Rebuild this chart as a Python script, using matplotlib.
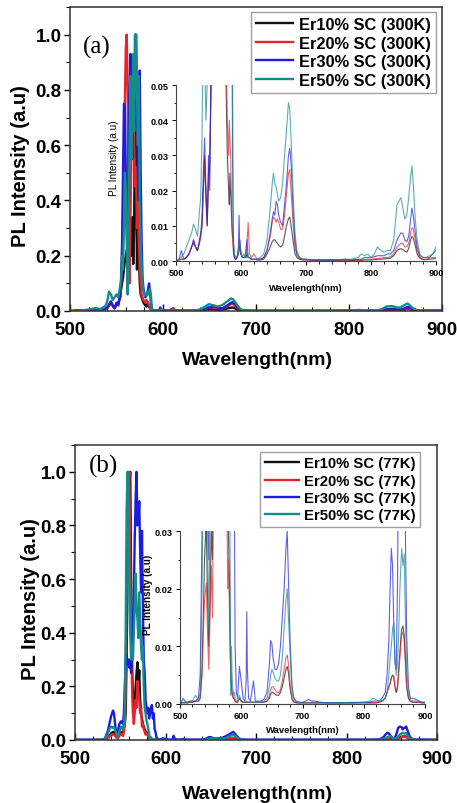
import numpy as np
import matplotlib
matplotlib.use("Agg")
import matplotlib.pyplot as plt
from matplotlib.ticker import MultipleLocator, FormatStrFormatter

plt.rcParams['font.family'] = ['Liberation Sans', 'DejaVu Sans']

# ---- panel (a): 300 K spectra -------------------------------------------
wl_a = [500, 505, 508, 512, 516, 520, 524, 527, 530, 533,
        536, 538, 540, 542, 544, 546, 548, 550, 552, 554,
        555, 556, 557, 558, 559, 560, 561, 562, 563, 564,
        565, 566, 567, 568, 569, 570, 571, 572, 573, 574,
        575, 576, 577, 578, 579, 580, 581, 582, 583, 584,
        585, 586, 587, 588, 589, 590, 592, 594, 596, 597,
        598, 600, 602, 604, 606, 608, 609, 611, 613, 616,
        620, 625, 630, 635, 640, 645, 648, 650, 652, 654,
        656, 658, 661, 664, 667, 670, 673, 675, 677, 680,
        683, 686, 690, 695, 700, 710, 720, 730, 740, 750,
        760, 770, 780, 785, 790, 795, 800, 805, 810, 815,
        820, 825, 830, 835, 840, 843, 846, 849, 852, 855,
        858, 861, 863, 865, 868, 871, 875, 880, 885, 890,
        895, 900]

er10_a = [0, 0.0003, 0.0005, 0.0005, 0.001, 0.002, 0.004, 0.005, 0.004, 0.003,
          0.005, 0.007, 0.01, 0.02, 0.029, 0.018, 0.01, 0.022, 0.028, 0.05,
          0.08, 0.1, 0.12, 0.15, 0.18, 0.2, 0.22, 0.17, 0.2, 0.25,
          0.28, 0.2, 0.34, 0.17, 0.3, 1.0, 0.6, 0.15, 0.3, 0.2,
          0.1, 0.06, 0.05, 0.04, 0.03, 0.025, 0.02, 0.016, 0.025, 0.02,
          0.015, 0.01, 0.007, 0.006, 0.002, 0.001, 0.0005, 0.001, 0.002, 0.003,
          0.006, 0.002, 0.001, 0.001, 0.001, 0.001, 0.002, 0.001, 0.001, 0.0005,
          0.0005, 0.0003, 0.0003, 0.0005, 0.002, 0.004, 0.0055, 0.006, 0.006, 0.0055,
          0.005, 0.0045, 0.004, 0.0045, 0.007, 0.01, 0.012, 0.0125, 0.01, 0.006,
          0.002, 0.001, 0.0005, 0.0003, 0.0003, 0.0002, 0.0002, 0.0002, 0.0002, 0.0002,
          0.0002, 0.0002, 0.0002, 0.0002, 0.0003, 0.0003, 0.0003, 0.0004, 0.0005, 0.0005,
          0.0006, 0.0007, 0.0008, 0.0015, 0.003, 0.0033, 0.0035, 0.0033, 0.0028, 0.0025,
          0.0035, 0.006, 0.007, 0.0065, 0.0045, 0.002, 0.0008, 0.0004, 0.0004, 0.0005,
          0.0006, 0.0007]

er20_a = [0, 0.0003, 0.0005, 0.0005, 0.001, 0.002, 0.004, 0.006, 0.004, 0.003,
          0.005, 0.007, 0.01, 0.02, 0.03, 0.02, 0.012, 0.025, 0.032, 0.05,
          0.1, 0.2, 0.35, 0.55, 0.75, 0.95, 1.0, 0.8, 0.4, 0.1,
          0.35, 0.55, 0.7, 0.83, 0.6, 0.45, 0.52, 0.3, 0.46, 0.25,
          0.15, 0.1, 0.06, 0.05, 0.04, 0.035, 0.03, 0.04, 0.035, 0.03,
          0.02, 0.01, 0.006, 0.003, 0.002, 0.001, 0.0005, 0.001, 0.002, 0.003,
          0.005, 0.002, 0.001, 0.001, 0.001, 0.002, 0.004, 0.011, 0.002, 0.001,
          0.002, 0.0005, 0.0005, 0.001, 0.003, 0.007, 0.011, 0.0125, 0.012, 0.011,
          0.012, 0.011, 0.009, 0.009, 0.013, 0.019, 0.025, 0.026, 0.02, 0.011,
          0.004, 0.0015, 0.0008, 0.0005, 0.0004, 0.0003, 0.0003, 0.0003, 0.0003, 0.0003,
          0.0003, 0.0003, 0.0003, 0.0003, 0.0004, 0.0005, 0.0005, 0.0006, 0.0007, 0.0008,
          0.001, 0.001, 0.0012, 0.002, 0.004, 0.0045, 0.005, 0.005, 0.004, 0.004,
          0.005, 0.008, 0.0095, 0.009, 0.006, 0.003, 0.001, 0.0005, 0.0005, 0.0008,
          0.001, 0.001]

er30_a = [0, 0.0005, 0.003, 0.0005, 0.001, 0.002, 0.004, 0.006, 0.004, 0.003,
          0.006, 0.008, 0.012, 0.025, 0.035, 0.02, 0.01, 0.03, 0.02, 0.06,
          0.1, 0.25, 0.5, 0.75, 0.74, 0.5, 0.3, 0.2, 0.55, 0.8,
          0.93, 0.7, 0.55, 0.85, 0.7, 0.9, 1.0, 0.75, 0.5, 0.4,
          0.87, 0.5, 0.25, 0.12, 0.08, 0.06, 0.05, 0.055, 0.06, 0.08,
          0.1, 0.07, 0.03, 0.01, 0.003, 0.001, 0.0005, 0.001, 0.004, 0.013,
          0.004, 0.002, 0.001, 0.001, 0.001, 0.004, 0.006, 0.001, 0.001, 0.0005,
          0.0005, 0.0005, 0.0005, 0.001, 0.003, 0.008, 0.012, 0.014, 0.013, 0.017,
          0.016, 0.013, 0.011, 0.01, 0.016, 0.022, 0.03, 0.032, 0.028, 0.015,
          0.006, 0.002, 0.001, 0.0005, 0.0005, 0.0003, 0.0003, 0.0003, 0.0003, 0.0003,
          0.0005, 0.0003, 0.0005, 0.0005, 0.001, 0.001, 0.001, 0.0012, 0.0015, 0.0015,
          0.0015, 0.002, 0.002, 0.003, 0.006, 0.007, 0.008, 0.0078, 0.006, 0.0055,
          0.007, 0.012, 0.015, 0.013, 0.008, 0.004, 0.0015, 0.001, 0.001, 0.001,
          0.002, 0.003]

er50_a = [0, 0.0005, 0.001, 0.002, 0.004, 0.006, 0.008, 0.0105, 0.009, 0.007,
          0.014, 0.018, 0.035, 0.07, 0.06, 0.04, 0.05, 0.06, 0.05, 0.09,
          0.12, 0.2, 0.15, 0.3, 0.5, 0.45, 0.25, 0.06, 0.3, 0.6,
          0.85, 0.55, 0.7, 0.93, 0.65, 1.0, 1.0, 0.8, 0.6, 0.85,
          0.4, 0.25, 0.15, 0.1, 0.07, 0.06, 0.055, 0.06, 0.07, 0.06,
          0.07, 0.08, 0.06, 0.006, 0.004, 0.002, 0.001, 0.001, 0.003, 0.004,
          0.006, 0.002, 0.001, 0.002, 0.001, 0.002, 0.003, 0.001, 0.001, 0.0005,
          0.0005, 0.0005, 0.001, 0.002, 0.006, 0.015, 0.022, 0.025, 0.022, 0.021,
          0.019, 0.017, 0.018, 0.022, 0.03, 0.037, 0.045, 0.043, 0.035, 0.02,
          0.008, 0.003, 0.001, 0.0005, 0.0005, 0.0003, 0.0003, 0.0003, 0.0003, 0.0004,
          0.0005, 0.0005, 0.001, 0.002, 0.0015, 0.002, 0.001, 0.002, 0.004, 0.003,
          0.0025, 0.003, 0.003, 0.006, 0.016, 0.017, 0.018, 0.015, 0.012, 0.013,
          0.018, 0.024, 0.027, 0.022, 0.012, 0.006, 0.002, 0.001, 0.001, 0.0015,
          0.002, 0.004]

# ---- panel (b): 77 K spectra --------------------------------------------
wl_b = [500, 503, 505, 508, 512, 516, 520, 525, 530, 533,
        536, 538, 540, 542, 543, 545, 547, 549, 551, 553,
        554, 555, 556, 557, 558, 559, 560, 561, 562, 563,
        564, 565, 566, 567, 568, 569, 570, 571, 572, 573,
        574, 575, 576, 577, 578, 579, 580, 581, 582, 583,
        584, 585, 586, 587, 588, 589, 590, 592, 594, 597,
        600, 603, 606, 608, 609, 610, 612, 615, 620, 623,
        627, 632, 637, 642, 646, 648, 650, 652, 655, 658,
        661, 664, 667, 670, 673, 675, 677, 680, 683, 686,
        690, 695, 700, 705, 710, 715, 720, 730, 740, 760,
        780, 800, 810, 815, 820, 825, 830, 835, 838, 841,
        843, 845, 847, 849, 851, 853, 855, 857, 859, 861,
        862, 864, 866, 868, 870, 873, 876, 880, 885, 890,
        895, 900]

er10_b = [0, 0.0002, 0.0002, 0.0002, 0.0002, 0.0003, 0.0003, 0.0005, 0.0005, 0.001,
          0.006, 0.015, 0.025, 0.03, 0.03, 0.018, 0.01, 0.018, 0.03, 0.025,
          0.04, 0.06, 0.1, 0.3, 0.6, 0.85, 0.95, 1.0, 0.6, 0.3,
          0.15, 0.1, 0.15, 0.2, 0.25, 0.29, 0.2, 0.26, 0.15, 0.1,
          0.08, 0.06, 0.05, 0.04, 0.03, 0.03, 0.025, 0.02, 0.01, 0.005,
          0.003, 0.002, 0.0015, 0.001, 0.001, 0.0008, 0.0005, 0.0003, 0.0003, 0.001,
          0.0005, 0.0003, 0.0003, 0.0003, 0.0003, 0.0003, 0.0003, 0.0003, 0.0003, 0.0003,
          0.0003, 0.0003, 0.0003, 0.0005, 0.001, 0.0017, 0.002, 0.002, 0.0017, 0.0015,
          0.0015, 0.002, 0.003, 0.0045, 0.006, 0.0065, 0.0055, 0.0025, 0.0008, 0.0003,
          0.0002, 0.0002, 0.0002, 0.0002, 0.0002, 0.0002, 0.0002, 0.0002, 0.0002, 0.0002,
          0.0002, 0.0002, 0.0002, 0.0002, 0.0002, 0.0003, 0.0005, 0.001, 0.002, 0.003,
          0.0035, 0.0045, 0.005, 0.0048, 0.003, 0.002, 0.003, 0.006, 0.009, 0.012,
          0.013, 0.0135, 0.012, 0.008, 0.003, 0.001, 0.0005, 0.0003, 0.0003, 0.0003,
          0.0002, 0.0002]

er20_b = [0, 0.0002, 0.0002, 0.0002, 0.0002, 0.0003, 0.0003, 0.0005, 0.0005, 0.001,
          0.005, 0.012, 0.018, 0.02, 0.021, 0.012, 0.006, 0.015, 0.024, 0.015,
          0.03, 0.06, 0.2, 0.5, 0.8, 0.95, 1.0, 0.7, 0.4, 0.2,
          0.1, 0.06, 0.1, 0.15, 0.12, 0.22, 0.18, 0.15, 0.1, 0.12,
          0.05, 0.06, 0.04, 0.03, 0.02, 0.025, 0.02, 0.015, 0.008, 0.005,
          0.003, 0.002, 0.0015, 0.001, 0.001, 0.0008, 0.0005, 0.0003, 0.0003, 0.001,
          0.0005, 0.0003, 0.0003, 0.0003, 0.0003, 0.0003, 0.0003, 0.0003, 0.0003, 0.0003,
          0.0003, 0.0003, 0.0003, 0.0005, 0.0015, 0.0025, 0.003, 0.003, 0.0025, 0.002,
          0.002, 0.0025, 0.004, 0.006, 0.008, 0.0085, 0.007, 0.003, 0.001, 0.0004,
          0.0002, 0.0002, 0.0002, 0.0002, 0.0002, 0.0002, 0.0002, 0.0002, 0.0002, 0.0002,
          0.0002, 0.0002, 0.0002, 0.0002, 0.0002, 0.0003, 0.0005, 0.001, 0.002, 0.003,
          0.0035, 0.0045, 0.005, 0.0048, 0.003, 0.002, 0.0025, 0.005, 0.008, 0.011,
          0.012, 0.0125, 0.011, 0.007, 0.003, 0.001, 0.0005, 0.0003, 0.0003, 0.0003,
          0.0002, 0.0002]

er30_b = [0, 0.0005, 0.001, 0.0005, 0.0003, 0.0005, 0.0005, 0.0005, 0.001, 0.005,
          0.03, 0.06, 0.09, 0.11, 0.1, 0.04, 0.025, 0.06, 0.07, 0.06,
          0.1, 0.2, 0.3, 0.32, 0.28, 0.3, 0.27, 0.3, 0.25, 0.3,
          0.4, 0.55, 0.75, 0.9, 1.0, 0.8, 0.82, 0.89, 0.7, 0.55,
          0.78, 0.5, 0.3, 0.25, 0.15, 0.12, 0.1, 0.12, 0.08, 0.1,
          0.12, 0.13, 0.08, 0.1, 0.04, 0.03, 0.01, 0.002, 0.001, 0.0065,
          0.004, 0.001, 0.0005, 0.004, 0.016, 0.006, 0.001, 0.0005, 0.004, 0.0005,
          0.0005, 0.0005, 0.0008, 0.002, 0.007, 0.011, 0.0105, 0.008, 0.006, 0.006,
          0.007, 0.01, 0.015, 0.02, 0.027, 0.03, 0.022, 0.01, 0.003, 0.001,
          0.0005, 0.0003, 0.0003, 0.0005, 0.0008, 0.0005, 0.0005, 0.0003, 0.0002, 0.0002,
          0.0002, 0.0003, 0.0003, 0.0005, 0.0005, 0.0005, 0.001, 0.002, 0.005, 0.011,
          0.02, 0.027, 0.024, 0.014, 0.007, 0.006, 0.02, 0.045, 0.05, 0.048,
          0.04, 0.045, 0.05, 0.03, 0.012, 0.003, 0.001, 0.001, 0.0008, 0.0005,
          0.0003, 0.0003]

er50_b = [0, 0.0003, 0.0003, 0.0003, 0.0003, 0.0005, 0.0005, 0.0015, 0.0008, 0.002,
          0.02, 0.04, 0.05, 0.045, 0.05, 0.03, 0.013, 0.03, 0.05, 0.04,
          0.06, 0.1, 0.4, 0.85, 1.0, 0.9, 0.6, 0.4, 0.3, 0.35,
          0.3, 0.4, 0.5, 0.62, 0.5, 0.45, 0.38, 0.55, 0.45, 0.35,
          0.3, 0.35, 0.2, 0.12, 0.1, 0.07, 0.06, 0.04, 0.02, 0.0015,
          0.01, 0.005, 0.003, 0.002, 0.0015, 0.002, 0.001, 0.0005, 0.0005, 0.0015,
          0.0005, 0.0003, 0.0003, 0.0003, 0.0005, 0.0003, 0.0003, 0.0003, 0.0003, 0.0003,
          0.0003, 0.0003, 0.0005, 0.001, 0.003, 0.005, 0.006, 0.0055, 0.0045, 0.004,
          0.004, 0.005, 0.008, 0.013, 0.018, 0.02, 0.015, 0.008, 0.002, 0.0008,
          0.0003, 0.0002, 0.0002, 0.0002, 0.0002, 0.0002, 0.0002, 0.0002, 0.0002, 0.0002,
          0.0003, 0.0003, 0.0005, 0.001, 0.0008, 0.0005, 0.0006, 0.001, 0.002, 0.005,
          0.008, 0.01, 0.013, 0.014, 0.008, 0.005, 0.007, 0.012, 0.02, 0.025,
          0.027, 0.024, 0.026, 0.015, 0.006, 0.002, 0.0008, 0.0005, 0.0005, 0.0004,
          0.0003, 0.0003]

labels_a = ['Er10% SC (300K)', 'Er20% SC (300K)', 'Er30% SC (300K)', 'Er50% SC (300K)']
labels_b = ['Er10% SC (77K)', 'Er20% SC (77K)', 'Er30% SC (77K)', 'Er50% SC (77K)']
colors = ['#111111', '#e8232a', '#1c1ce0', '#148c8c']

W, H = 457, 804
fig = plt.figure(figsize=(W / 100, H / 100), dpi=100)


def px_axes(l, t, r, b):
    return fig.add_axes([l / W, 1 - b / H, (r - l) / W, (b - t) / H])


def draw_panel(box, inset_box, wl, series, labels, tag, tag_xy, inset_top,
               leg_anchor, leg_fs, xlab_y, ylab_x, ins_lab):
    ax = px_axes(*box)
    for y, c, lab in zip(series, colors, labels):
        ax.plot(wl, y, color=c, lw=1.7, label=lab)
    ax.set_xlim(500, 900)
    ax.set_ylim(0, 1.1)
    ax.xaxis.set_major_locator(MultipleLocator(100))
    ax.xaxis.set_minor_locator(MultipleLocator(20))
    ax.yaxis.set_major_locator(MultipleLocator(0.2))
    ax.yaxis.set_minor_locator(MultipleLocator(0.1))
    ax.yaxis.set_major_formatter(FormatStrFormatter('%.1f'))
    ax.tick_params(which='both', top=False, right=False)
    ax.tick_params(axis='x', which='both', direction='in')
    ax.tick_params(axis='y', which='both', direction='out')
    ax.tick_params(axis='x', which='major', length=5, width=1, labelsize=13.5, pad=7)
    ax.tick_params(axis='y', which='major', length=4, width=1, labelsize=13.5, pad=2)
    ax.tick_params(which='minor', length=3, width=0.8)
    for t in ax.get_xticklabels() + ax.get_yticklabels():
        t.set_fontweight('bold')
    for s in ax.spines.values():
        s.set_linewidth(1.1)
        s.set_color('#333333')
    ax.set_xlabel('Wavelength(nm)', fontsize=14, fontweight='bold')
    ax.set_ylabel('PL Intensity (a.u)', fontsize=14.5, fontweight='bold')
    ax.xaxis.label.set_va('center')
    ax.yaxis.label.set_va('center')
    ax.xaxis.set_label_coords(0.503, xlab_y)
    ax.yaxis.set_label_coords(ylab_x, 0.48)
    fig.text(tag_xy[0] / W, 1 - tag_xy[1] / H, tag, fontsize=18,
             family='Liberation Serif', ha='center', va='center')
    leg = ax.legend(loc='upper right', bbox_to_anchor=(leg_anchor[0] / W, 1 - leg_anchor[1] / H),
                    bbox_transform=fig.transFigure, borderaxespad=0, fancybox=False,
                    prop={'size': leg_fs, 'weight': 'bold'}, handlelength=2.3,
                    handletextpad=0.35, labelspacing=0.22, borderpad=0.3)
    leg.get_frame().set_edgecolor('#888888')
    leg.get_frame().set_linewidth(1.0)

    ins = px_axes(*inset_box)
    ins.patch.set_alpha(0)
    for y, c in zip(series, colors):
        ins.plot(wl, y, color=c, lw=0.8, alpha=0.7)
    ins.set_xlim(500, 900)
    ins.set_ylim(0, inset_top)
    ins.xaxis.set_major_locator(MultipleLocator(100))
    ins.xaxis.set_minor_locator(MultipleLocator(20))
    ins.yaxis.set_major_locator(MultipleLocator(0.01))
    ins.yaxis.set_minor_locator(MultipleLocator(0.005))
    ins.yaxis.set_major_formatter(FormatStrFormatter('%.2f'))
    ins.spines['top'].set_visible(False)
    ins.spines['right'].set_visible(False)
    for s in ('left', 'bottom'):
        ins.spines[s].set_linewidth(0.8)
        ins.spines[s].set_color('#444444')
    ins.tick_params(which='both', direction='out', labelsize=6.6, pad=2)
    ins.tick_params(which='major', length=3, width=0.7)
    ins.tick_params(which='minor', length=1.8, width=0.6)
    for t in ins.get_xticklabels() + ins.get_yticklabels():
        t.set_fontweight('bold')
    ins.set_xlabel('Wavelength(nm)', fontsize=6.8, fontweight='bold')
    ins.set_ylabel('PL Intensity (a.u)', fontsize=7.2, fontweight=ins_lab[2])
    ins.xaxis.label.set_va('center')
    ins.yaxis.label.set_va('center')
    ins.xaxis.set_label_coords(0.5, ins_lab[1])
    ins.yaxis.set_label_coords(ins_lab[0], ins_lab[3])
    return ax, ins


draw_panel((70, 8, 442, 312), (176, 86, 436, 262), wl_a,
           [er10_a, er20_a, er30_a, er50_a], labels_a, '(a)', (97, 47), 0.05,
           (436, 13), 11.8, -0.158, -0.134, (-0.238, -0.148, 'normal', 0.59))

draw_panel((75, 446, 437, 741), (180, 532, 425, 705), wl_b,
           [er10_b, er20_b, er30_b, er50_b], labels_b, '(b)', (104, 466), 0.03,
           (420, 453), 10.7, -0.183, -0.124, (-0.131, -0.150, 'bold', 0.636))

fig.savefig('out.png', dpi=100)
